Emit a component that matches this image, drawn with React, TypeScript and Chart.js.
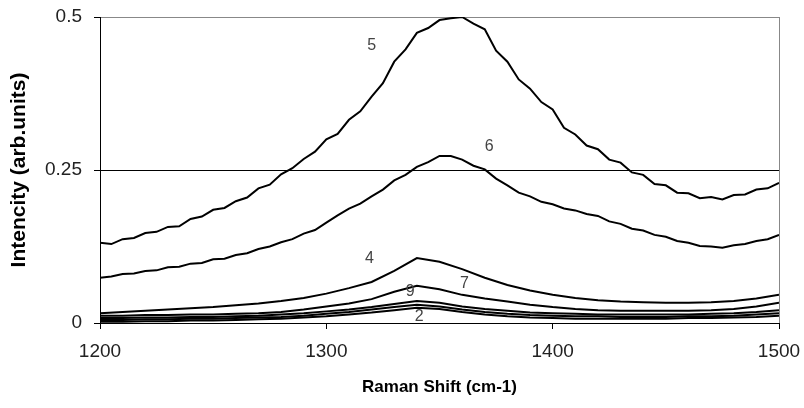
import React, { useEffect, useRef } from "react";
import { Chart, registerables } from "chart.js";

Chart.register(...registerables);

// Raman shift grids (cm-1)
const shiftFine: number[] = [];
for (let s = 1200; s <= 1500; s += 5) shiftFine.push(s);
const shiftCoarse: number[] = [];
for (let s = 1200; s <= 1500; s += 10) shiftCoarse.push(s);

// Sample 5 (every 5 cm-1)
const sample5 = [
  0.131, 0.129, 0.137, 0.139, 0.147, 0.149, 0.157, 0.158, 0.170, 0.174,
  0.185, 0.188, 0.199, 0.205, 0.220, 0.226, 0.243, 0.253, 0.268, 0.280,
  0.300, 0.309, 0.332, 0.346, 0.370, 0.392, 0.427, 0.447, 0.474, 0.482,
  0.495, 0.498, 0.500, 0.489, 0.480, 0.445, 0.427, 0.398, 0.383, 0.361,
  0.349, 0.319, 0.308, 0.290, 0.284, 0.267, 0.262, 0.246, 0.242, 0.227,
  0.225, 0.213, 0.212, 0.204, 0.206, 0.202, 0.209, 0.210, 0.218, 0.220,
  0.229,
];

// Sample 6 (every 5 cm-1)
const sample6 = [
  0.074, 0.076, 0.080, 0.081, 0.085, 0.086, 0.091, 0.092, 0.097, 0.098,
  0.104, 0.105, 0.111, 0.114, 0.121, 0.125, 0.132, 0.137, 0.146, 0.152,
  0.164, 0.176, 0.187, 0.195, 0.207, 0.218, 0.233, 0.242, 0.255, 0.263,
  0.273, 0.273, 0.267, 0.257, 0.251, 0.236, 0.225, 0.213, 0.207, 0.198,
  0.194, 0.187, 0.184, 0.178, 0.175, 0.166, 0.162, 0.154, 0.151, 0.144,
  0.141, 0.134, 0.131, 0.126, 0.125, 0.123, 0.127, 0.129, 0.134, 0.137,
  0.144,
];

// Samples with weak signal (every 10 cm-1)
const sample4 = [
  0.016, 0.018, 0.020, 0.022, 0.024, 0.026, 0.029, 0.032, 0.036, 0.041,
  0.048, 0.057, 0.067, 0.085, 0.106, 0.100, 0.088, 0.074, 0.062, 0.053,
  0.046, 0.041, 0.037, 0.035, 0.034, 0.033, 0.033, 0.034, 0.036, 0.040,
  0.046,
];
const sample7 = [
  0.012, 0.012, 0.013, 0.013, 0.014, 0.014, 0.015, 0.016, 0.018, 0.022,
  0.027, 0.032, 0.039, 0.051, 0.061, 0.055, 0.046, 0.040, 0.035, 0.030,
  0.026, 0.023, 0.021, 0.020, 0.020, 0.020, 0.020, 0.021, 0.023, 0.027,
  0.033,
];
const sample9 = [
  0.008, 0.008, 0.009, 0.009, 0.010, 0.010, 0.011, 0.012, 0.014, 0.016,
  0.019, 0.022, 0.026, 0.031, 0.036, 0.033, 0.027, 0.023, 0.020, 0.017,
  0.016, 0.015, 0.014, 0.014, 0.014, 0.014, 0.014, 0.015, 0.016, 0.018,
  0.021,
];
const sample2 = [
  0.005, 0.005, 0.006, 0.006, 0.007, 0.007, 0.008, 0.009, 0.010, 0.012,
  0.015, 0.018, 0.022, 0.026, 0.030, 0.027, 0.022, 0.018, 0.015, 0.013,
  0.012, 0.011, 0.011, 0.010, 0.010, 0.010, 0.011, 0.011, 0.012, 0.014,
  0.016,
];
const sample1 = [
  0.002, 0.002, 0.003, 0.003, 0.004, 0.004, 0.005, 0.006, 0.007, 0.009,
  0.011, 0.014, 0.017, 0.021, 0.025, 0.023, 0.018, 0.014, 0.011, 0.009,
  0.008, 0.007, 0.007, 0.007, 0.007, 0.007, 0.008, 0.008, 0.009, 0.010,
  0.012,
];

// Tick labels
const yTickValues = [0, 0.25, 0.5];
const yTickLabels = ["0", "0.25", "0.5"];
const xTickLabels = ["1200", "1300", "1400", "1500"];

// Curve annotations (text, shift, intensity)
const annText = ["5", "6", "4", "7", "9", "2"];
const annShift = [1320, 1372, 1319, 1361, 1337, 1341];
const annValue = [0.454, 0.288, 0.106, 0.065, 0.051, 0.011];

const toPoints = (xs: number[], ys: number[]) => ys.map((y, i) => ({ x: xs[i], y }));

const FONT = "'Liberation Sans', Arial, sans-serif";

export default function App() {
  const ref = useRef<HTMLCanvasElement | null>(null);

  useEffect(() => {
    if (!ref.current) return;
    const labelPlugin = {
      id: "curveLabels",
      afterDatasetsDraw(chart: any) {
        const { ctx, scales } = chart;
        ctx.save();
        ctx.fillStyle = "#444";
        ctx.font = `16px ${FONT}`;
        ctx.textAlign = "center";
        ctx.textBaseline = "middle";
        annText.forEach((t, i) => {
          ctx.fillText(t, scales.x.getPixelForValue(annShift[i]), scales.y.getPixelForValue(annValue[i]));
        });
        ctx.restore();
      },
    };

    const mk = (xs: number[], ys: number[]) => ({
      data: toPoints(xs, ys),
      borderColor: "#000",
      borderWidth: 2,
      pointRadius: 0,
      tension: 0,
      fill: false,
    });

    const chart = new Chart(ref.current, {
      type: "line",
      data: {
        datasets: [
          mk(shiftFine, sample5),
          mk(shiftFine, sample6),
          mk(shiftCoarse, sample4),
          mk(shiftCoarse, sample7),
          mk(shiftCoarse, sample9),
          mk(shiftCoarse, sample2),
          mk(shiftCoarse, sample1),
        ] as any,
      },
      options: {
        responsive: false,
        animation: false,
        devicePixelRatio: 1,
        layout: { padding: { left: 0, top: 17, right: 25, bottom: 0 } },
        plugins: { legend: { display: false }, tooltip: { enabled: false } },
        scales: {
          x: {
            type: "linear",
            min: 1200,
            max: 1500,
            afterFit: (s: any) => {
              s.height = 85;
              s.paddingLeft = 0;
              s.paddingRight = 0;
            },
            afterBuildTicks: (s: any) => {
              s.ticks = xTickLabels.map((l) => ({ value: Number(l) }));
            },
            ticks: {
              callback: (v: any, i: number) => xTickLabels[i],
              color: "#222",
              font: { family: FONT, size: 19 },
              padding: 11,
              maxRotation: 0,
            },
            grid: {
              drawOnChartArea: true,
              color: (c: any) => (c.tick && c.tick.value === 1500 ? "#888" : "rgba(0,0,0,0)"),
              tickColor: "#000",
              tickLength: 6,
              lineWidth: 1,
            },
            border: { display: true, color: "#000", width: 1 },
            title: {
              display: true,
              text: "Raman Shift (cm-1)",
              color: "#000",
              font: { family: FONT, size: 17, weight: "bold" },
              padding: { top: 0, bottom: 10 },
            },
          },
          y: {
            type: "linear",
            min: 0,
            max: 0.5,
            afterFit: (s: any) => {
              s.width = 100;
              s.paddingTop = 0;
              s.paddingBottom = 0;
            },
            afterBuildTicks: (s: any) => {
              s.ticks = yTickValues.map((v) => ({ value: v }));
            },
            ticks: {
              callback: (v: any, i: number) => yTickLabels[i],
              color: "#222",
              font: { family: FONT, size: 19 },
              padding: 12,
            },
            grid: {
              drawOnChartArea: true,
              color: (c: any) =>
                c.tick && c.tick.value === 0.5 ? "#888" : c.tick && c.tick.value === 0.25 ? "#000" : "rgba(0,0,0,0)",
              tickColor: "#000",
              tickLength: 6,
              lineWidth: 1,
            },
            border: { display: true, color: "#000", width: 1 },
            title: {
              display: true,
              text: "Intencity (arb.units)",
              color: "#000",
              font: { family: FONT, size: 21, weight: "bold" },
              padding: { top: 7, bottom: 0 },
            },
          },
        },
      },
      plugins: [labelPlugin],
    });
    return () => chart.destroy();
  }, []);

  return (
    <div style={{ position: "absolute", left: 0, top: 0, width: 804, height: 408, background: "#fff" }}>
      <canvas ref={ref} width={804} height={408} />
    </div>
  );
}
